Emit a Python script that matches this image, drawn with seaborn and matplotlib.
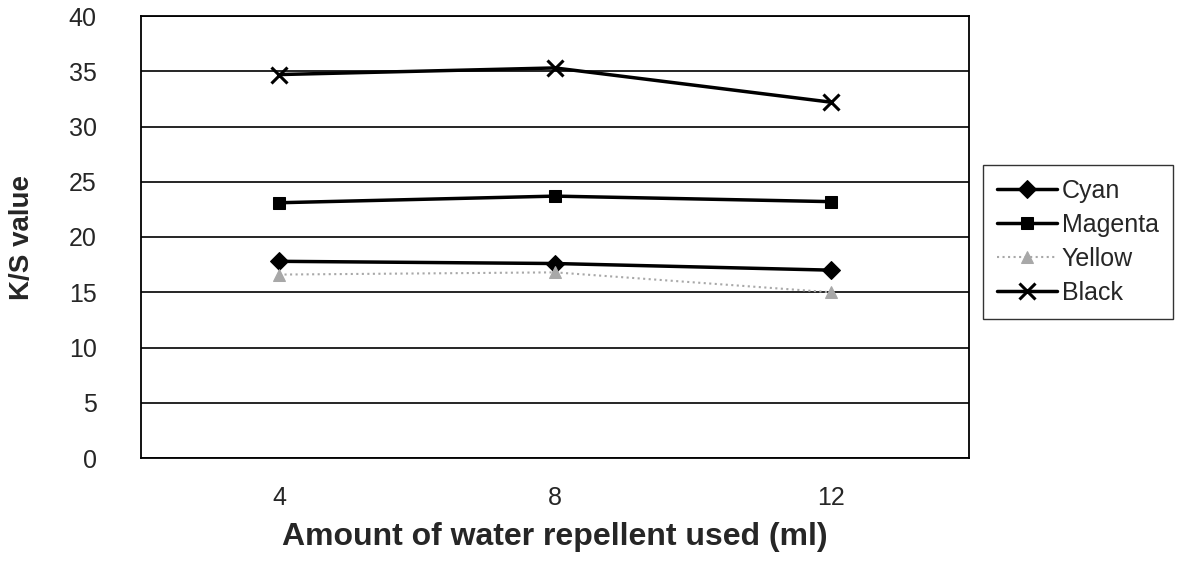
import matplotlib
matplotlib.use('Agg')
import matplotlib.pyplot as plt
import numpy as np
import pandas as pd
import seaborn as sns

# data
amounts = ['4', '8', '12']
cyan = [17.8, 17.6, 17.0]
magenta = [23.1, 23.7, 23.2]
yellow = [16.6, 16.8, 15.0]
black = [34.7, 35.3, 32.2]

series = ['Cyan', 'Magenta', 'Yellow', 'Black']
values = [cyan, magenta, yellow, black]

df = pd.DataFrame({
    'amount': amounts * len(series),
    'pos': list(range(len(amounts))) * len(series),
    'colour': [s for s in series for _ in amounts],
    'ks': [v for vals in values for v in vals],
})

sns.set_style('white')
plt.rcParams['font.family'] = ['Liberation Sans', 'DejaVu Sans']

fig = plt.figure(figsize=(11.86, 5.73), dpi=100)
# frame from about (141,16) to (969,458) px
ax = fig.add_axes([141 / 1186, 1 - 458 / 573, 828 / 1186, 442 / 573])

styles = {
    'Cyan': dict(color='black', marker='D', markersize=9, markeredgecolor='black', linewidth=2.5, linestyle='-'),
    'Magenta': dict(color='black', marker='s', markersize=9, markeredgecolor='black', linewidth=2.5, linestyle='-'),
    'Yellow': dict(color='#a8a8a8', marker='^', markersize=9, markeredgecolor='#a8a8a8', linewidth=1.5, linestyle=':'),
    'Black': dict(color='black', marker='x', markersize=11, markeredgecolor='black', markeredgewidth=2.2, linewidth=2.5, linestyle='-'),
}

for s in series:
    sub = df[df.colour == s]
    sns.lineplot(data=sub, x='pos', y='ks', ax=ax, label=s, **styles[s])

ax.set_xlim(-0.5, 2.5)
ax.set_ylim(0, 40)
ax.set_yticks(np.arange(0, 41, 5))
ax.set_xticks(range(len(amounts)))
ax.set_xticklabels(amounts)
ax.set_xticks([0.5, 1.5], minor=True)
ax.tick_params(axis='x', which='major', length=0, pad=20, labelsize=18)
ax.tick_params(axis='x', which='minor', length=7, direction='in', color='black')
ax.tick_params(axis='y', length=0, pad=32, labelsize=18)
ax.yaxis.grid(True, color='black', linewidth=1.2)
ax.set_axisbelow(True)
for sp in ax.spines.values():
    sp.set_color('black')
    sp.set_linewidth(1.3)

ax.set_xlabel('Amount of water repellent used (ml)', fontsize=23, fontweight='bold')
ax.set_ylabel('K/S value', fontsize=20, fontweight='bold')
ax.xaxis.set_label_coords(0.5, -0.145)
ax.yaxis.set_label_coords(-0.128, 0.5)

leg = ax.legend(loc='upper left', bbox_to_anchor=(983 / 1186, 1 - 165 / 573), bbox_transform=fig.transFigure,
                frameon=True, fancybox=False, fontsize=18, handlelength=2.4,
                handletextpad=0.2, borderpad=0.55, labelspacing=0.4, borderaxespad=0)
leg.get_frame().set_edgecolor('black')
leg.get_frame().set_linewidth(1.0)

fig.savefig('out.png', dpi=100)
